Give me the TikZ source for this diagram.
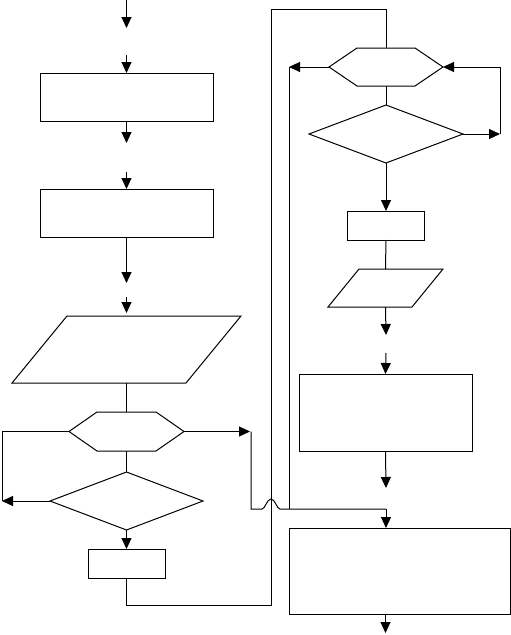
\documentclass[tikz,border=0pt]{standalone}
\usetikzlibrary{arrows.meta,shapes.geometric,calc}
\begin{document}
\begin{tikzpicture}[x=1pt,y=-1pt,line width=1pt,
  arr/.style={-{Triangle[length=11pt,width=10pt]}},
  boxnode/.style={draw,rectangle,inner sep=0pt,outer sep=0pt},
  frame/.style={rectangle,inner sep=0pt,outer sep=0pt},
  dianode/.style={draw,diamond,inner sep=0pt,outer sep=0pt}]
\useasboundingbox (0,0) rectangle (511,635);

% ---------- left column ----------
\coordinate (s1) at (126.5,0);
\coordinate (e1) at (126.5,28);
\coordinate (s2) at (126.5,55);
\node[boxnode,minimum width=173pt,minimum height=48pt] (b1) at (126.5,97) {};
\coordinate (e3) at (126.5,143);
\coordinate (s4) at (126.5,172);
\node[boxnode,minimum width=173pt,minimum height=48pt] (b2) at (126.5,213) {};
\coordinate (e5) at (126.5,283);
\coordinate (s6) at (126.5,297);
\node[frame,minimum width=229pt,minimum height=67pt] (p1) at (126.5,349.5) {};
\draw ($(p1.north west)+(55,0)$) -- (p1.north east) -- ($(p1.south east)+(-55,0)$) -- (p1.south west) -- cycle;
\node[frame,minimum width=115pt,minimum height=39pt] (h1) at (126.5,431.5) {};
\draw ($(h1.north west)+(28,0)$) -- ($(h1.north east)+(-28,0)$) -- (h1.east) -- ($(h1.south east)+(-28,0)$) -- ($(h1.south west)+(28,0)$) -- (h1.west) -- cycle;
\node[dianode,minimum width=153pt,minimum height=58pt] (d1) at (126.5,501) {};
\node[boxnode,minimum width=77pt,minimum height=29pt] (b3) at (126.5,563.5) {};

\draw[arr] (s1) -- (e1);
\draw[arr] (s2) -- (b1.north);
\draw[arr] (b1.south) -- (e3);
\draw[arr] (s4) -- (b2.north);
\draw[arr] (b2.south) -- (e5);
\draw[arr,shorten >=3pt] (s6) -- (p1.north);
\draw (p1.south) -- (h1.north);
\draw (h1.south) -- (d1.north);
\draw[arr] (d1.south) -- (b3.north);

\coordinate (L1) at (2,431.5);
\coordinate (L2) at (2,501);
\draw (h1.west) -- (L1) -- (L2);
\draw[arr] (d1.west) -- (L2);

\coordinate (R1) at (250,431.5);
\draw[arr] (h1.east) -- (R1);

% ---------- right column ----------
\node[frame,minimum width=114pt,minimum height=38pt] (h2) at (386,67) {};
\draw ($(h2.north west)+(28,0)$) -- ($(h2.north east)+(-28,0)$) -- (h2.east) -- ($(h2.south east)+(-28,0)$) -- ($(h2.south west)+(28,0)$) -- (h2.west) -- cycle;
\node[dianode,minimum width=154pt,minimum height=58pt] (d2) at (386,134) {};
\node[boxnode,minimum width=77pt,minimum height=29pt] (b5) at (386,225.5) {};
\node[frame,minimum width=115pt,minimum height=38pt] (p2) at (385.5,288) {};
\draw ($(p2.north west)+(31,0)$) -- (p2.north east) -- ($(p2.south east)+(-31,0)$) -- (p2.south west) -- cycle;
\coordinate (e7) at (386,335);
\coordinate (s8) at (386,353);
\node[boxnode,minimum width=173pt,minimum height=77pt] (b6) at (385.5,412.5) {};
\coordinate (e9) at (386,488);
\node[boxnode,minimum width=221pt,minimum height=86pt] (b4) at (399.5,571) {};

\draw (h2.south) -- (d2.north);
\draw[arr] (d2.south) -- (b5.north);
\draw (b5.south) -- (p2.north);
\draw[arr] (p2.south) -- (e7);
\draw[arr] (s8) -- (b6.north);
\draw[arr] (b6.south) -- (e9);
\draw[arr] (b6.south |- b4.south) -- ++(0,19);

% loop on the right of the right column
\coordinate (Q1) at (500,134);
\coordinate (Q2) at (500,67);
\draw[arr] (d2.east) -- (Q1);
\draw[arr] (Q1) -- (Q2) -- (h2.east);

% hex2 left branch down to the merge line
\coordinate (M1) at (289,67);
\coordinate (M2) at (289,509);
\draw[arr] (h2.west) -- (M1);
\draw (M1) -- (M2);

% outer return line from box3 to hex2
\coordinate (T1) at (126.5,605);
\coordinate (T2) at (271,605);
\coordinate (T3) at (271,9);
\coordinate (T4) at (386,9);
\draw (b3.south) -- (T1) -- (T2) -- (T3) -- (T4) -- (h2.north);

% merge line with a hop over the return line
\coordinate (G1) at (251,431.5);
\coordinate (G2) at (251,509);
\coordinate (G3) at (386,509);
\draw (G1) -- (G2) -- (262,509) .. controls (265,509) and (267,499) .. (271,499)
      .. controls (275,499) and (277,509) .. (280,509) -- (G3);
\draw[arr] (G3) -- (G3 |- b4.north);
\end{tikzpicture}
\end{document}
